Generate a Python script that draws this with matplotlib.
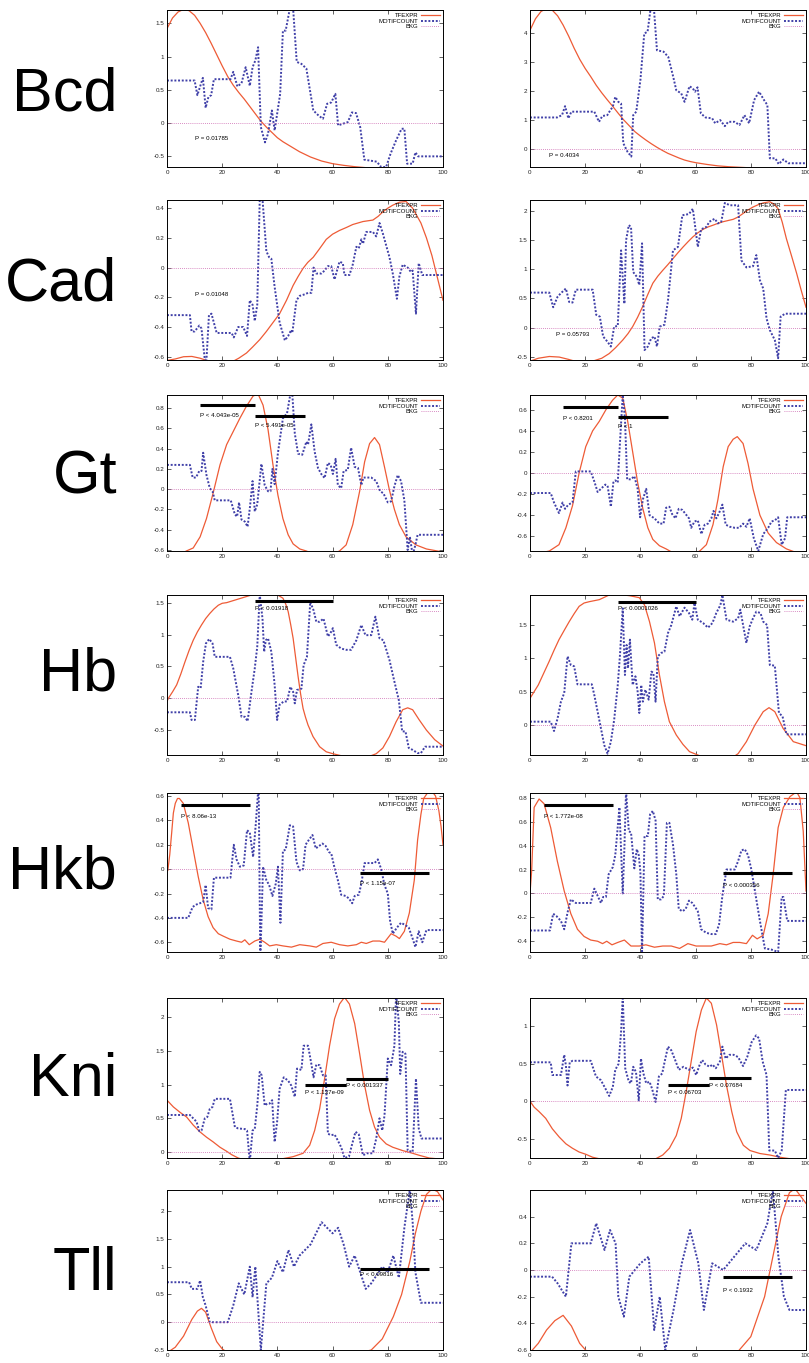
import matplotlib
matplotlib.use("Agg")
import matplotlib.pyplot as plt
from matplotlib.lines import Line2D

plt.rcParams['font.family'] = ['Liberation Sans', 'DejaVu Sans']
plt.rcParams['axes.unicode_minus'] = False

EXPR_COLOR = '#ee5b36'
MOTIF_COLOR = '#4040a8'
BKG_COLOR = '#cc66b0'

genes = ['Bcd', 'Cad', 'Gt', 'Hb', 'Hkb', 'Kni', 'Tll']
x_ticks = [0, 20, 40, 60, 80, 100]

# ---------------- Bcd ----------------
bcd_l_expr = [(0, 1.42), (2, 1.58), (4, 1.67), (6, 1.71), (8, 1.69), (10, 1.62), (12, 1.5), (14, 1.36), (16, 1.2),
              (18, 1.03), (20, 0.86), (22, 0.7), (24, 0.57), (26, 0.46), (28, 0.36), (30, 0.25), (32, 0.14),
              (34, 0.03), (36, -0.06), (38, -0.14), (40, -0.22), (42, -0.28), (44, -0.33), (46, -0.38),
              (48, -0.43), (50, -0.47), (52, -0.51), (54, -0.54), (56, -0.57), (58, -0.59), (60, -0.61),
              (64, -0.635), (68, -0.655), (72, -0.67), (80, -0.69), (100, -0.7)]
bcd_l_motif = [(0, 0.64), (10, 0.64), (11, 0.42), (13, 0.68), (14, 0.23), (15, 0.39), (16, 0.42), (17, 0.66),
               (23, 0.66), (24, 0.77), (25.5, 0.55), (27, 0.6), (28.5, 0.84), (30, 0.56), (31, 0.84), (32, 0.94),
               (33, 1.14), (34, -0.06), (35.5, -0.29), (36.6, -0.16), (38, 0.19), (39, -0.11), (41, 0.44),
               (42, 1.39), (43, 1.39), (44.5, 1.72), (45.7, 1.72), (47, 0.92), (48.7, 0.89), (50.5, 0.82),
               (53, 0.19), (55, 0.11), (56.5, 0.065), (58, 0.29), (59.5, 0.31), (61, 0.44), (62, -0.035),
               (63.7, -0.01), (65.5, 0.015), (67, 0.16), (68.5, 0.15), (70, -0.06), (71.5, -0.55), (73, -0.56),
               (76, -0.58), (77.6, -0.66), (79.4, -0.66), (81, -0.46), (83, -0.26), (85, -0.085), (86, -0.085),
               (87, -0.61), (89, -0.61), (90, -0.44), (91, -0.5), (100, -0.5)]
bcd_r_expr = [(0, 4.1), (2, 4.5), (4, 4.75), (6, 4.85), (8, 4.8), (10, 4.6), (12, 4.28), (14, 3.9), (16, 3.48),
              (18, 3.1), (20, 2.78), (22, 2.5), (24, 2.2), (26, 1.94), (28, 1.7), (30, 1.47), (32, 1.23),
              (34, 1.0), (36, 0.8), (38, 0.6), (40, 0.45), (42, 0.31), (44, 0.18), (46, 0.06), (48, -0.05),
              (50, -0.15), (52, -0.23), (54, -0.31), (56, -0.38), (58, -0.43), (60, -0.47), (64, -0.53),
              (68, -0.58), (72, -0.61), (80, -0.65), (100, -0.68)]
bcd_r_motif = [(0, 1.09), (9.8, 1.09), (11.6, 1.17), (12.7, 1.48), (13.9, 1.06), (15, 1.29), (23.3, 1.29),
               (25, 0.94), (26.2, 1.14), (28, 1.17), (29.1, 1.34), (30, 1.46), (30.9, 1.8), (32, 1.63), (33, 1.57),
               (33.8, 0.2), (35.3, -0.09), (36.7, -0.26), (37.4, 1.17), (38.5, 1.29), (40, 2.38), (41.4, 3.99),
               (42.6, 4.05), (43.7, 4.85), (44.9, 4.85), (46, 3.41), (48.4, 3.36), (50.1, 3.18), (51.9, 2.49),
               (53, 2.03), (54.8, 1.92), (56, 1.63), (57.8, 2.17), (59, 2.09), (59.8, 1.98), (60.7, 2.13),
               (61.9, 1.23), (63.6, 1.09), (66, 1.06), (67.1, 0.89), (68.9, 1.0), (70.6, 0.79), (71.8, 0.94),
               (74.1, 0.94), (75.9, 0.83), (77.7, 1.17), (79.4, 0.89), (81.2, 1.69), (83, 1.98), (84.8, 1.69),
               (86, 1.52), (86.9, -0.32), (88.9, -0.32), (90.1, -0.52), (91.8, -0.36), (93.6, -0.49), (100, -0.49)]

# ---------------- Cad ----------------
cad_l_expr = [(0, -0.625), (3, -0.615), (6, -0.6), (9, -0.598), (12, -0.61), (15, -0.63), (20, -0.66),
              (24, -0.63), (26, -0.61), (28.8, -0.575), (31, -0.535), (33.6, -0.485), (36, -0.43), (38.4, -0.37),
              (40.8, -0.31), (43.3, -0.22), (45.7, -0.12), (47.5, -0.06), (49.3, -0.005), (51, 0.035),
              (53, 0.07), (55, 0.12), (57.7, 0.19), (60, 0.225), (62.5, 0.25), (65, 0.27), (67.3, 0.29),
              (71, 0.31), (74.6, 0.32), (76.5, 0.345), (78.2, 0.375), (80, 0.4), (81.8, 0.42), (84.2, 0.44),
              (86.6, 0.445), (89, 0.4), (90.8, 0.34), (92, 0.3), (94, 0.2), (96, 0.08), (98, -0.07), (100, -0.22)]
cad_l_motif = [(0, -0.32), (8.3, -0.32), (8.9, -0.43), (10, -0.43), (11.7, -0.39), (12.5, -0.41), (13.7, -0.62),
               (14.3, -0.62), (15.2, -0.32), (16.1, -0.31), (18, -0.44), (23.4, -0.44), (24.2, -0.47),
               (25.8, -0.4), (27.6, -0.4), (29, -0.46), (30, -0.22), (31, -0.25), (31.8, -0.36), (32.7, -0.25),
               (33.6, 0.46), (34.6, 0.46), (36, 0.11), (37, 0.07), (37.8, 0.06), (39, -0.13), (40.8, -0.37),
               (42.7, -0.49), (43.9, -0.46), (45, -0.42), (45.4, -0.44), (46.9, -0.22), (48.1, -0.19),
               (49.9, -0.18), (51.1, -0.17), (52.3, -0.17), (53.1, 0.0), (54.1, -0.04), (55.9, -0.04),
               (57.1, -0.02), (58.3, 0.01), (59.5, 0.01), (60.7, -0.08), (62.5, 0.04), (63.7, 0.03), (64.3, -0.05),
               (66.1, -0.05), (67.3, 0.02), (68.6, 0.14), (69.5, 0.13), (70.4, 0.19), (71, 0.16), (72.2, 0.24),
               (74.6, 0.24), (75.8, 0.21), (77, 0.3), (78.2, 0.23), (80.6, 0.07), (81.8, -0.04), (83.3, -0.21),
               (84.2, -0.06), (85.4, 0.02), (87.2, 0.0), (88.4, -0.03), (89, -0.02), (90.2, -0.31), (91.2, 0.03),
               (92.5, -0.05), (100, -0.05)]
cad_r_expr = [(0, -0.57), (3, -0.52), (7, -0.49), (10.6, -0.5), (14, -0.54), (17, -0.58), (22, -0.58),
              (24, -0.55), (26, -0.52), (28.7, -0.44), (31, -0.34), (33.6, -0.21), (35.5, -0.1), (37.2, 0.02),
              (39, 0.18), (40.8, 0.36), (42.7, 0.57), (44.5, 0.76), (46.3, 0.88), (48.1, 0.98), (50, 1.08),
              (51.8, 1.18), (53.6, 1.28), (55.5, 1.38), (57.3, 1.47), (59, 1.55), (60.8, 1.62), (62.7, 1.68),
              (64.5, 1.72), (66.3, 1.75), (68, 1.78), (70, 1.81), (71.8, 1.83), (73.6, 1.85), (75.4, 1.89),
              (77.2, 1.95), (79, 2.01), (80.8, 2.06), (82.7, 2.1), (84.5, 2.13), (86.9, 2.15), (88.4, 2.11),
              (89.9, 2.03), (91.4, 1.8), (92.9, 1.52), (94.8, 1.22), (96.6, 0.93), (98.2, 0.65), (100, 0.35)]
cad_r_motif = [(0, 0.6), (7, 0.6), (8.4, 0.35), (10, 0.53), (11.2, 0.59), (13, 0.67), (14.2, 0.44), (15.4, 0.43),
               (16.6, 0.65), (22.7, 0.65), (24, 0.22), (25.3, 0.19), (26.5, -0.15), (28.1, -0.24), (29.3, -0.32),
               (30.5, 0.02), (31.8, 0.03), (33, 1.32), (33.8, 0.7), (34.2, 0.41), (34.8, 1.49), (35.8, 1.75),
               (36.6, 1.72), (37.4, 0.95), (38.7, 0.87), (39.6, 0.73), (40.6, 1.44), (41.5, -0.38), (42.7, -0.32),
               (43.9, -0.18), (45.1, -0.15), (46, -0.32), (47, 0.02), (48.7, 0.05), (50, 0.47), (51.8, 1.32),
               (53.6, 1.38), (55.2, 1.92), (57.6, 1.94), (59, 2.03), (60.8, 1.38), (62, 1.68), (63.9, 1.72),
               (65, 1.81), (66.9, 1.86), (68.1, 1.78), (69.3, 1.81), (70.6, 2.13), (72.4, 2.09), (75.4, 2.09),
               (76.6, 1.15), (78.4, 1.03), (80.8, 1.05), (82, 1.24), (83.3, 0.81), (84.5, 0.67), (85.7, 0.16),
               (86.9, -0.04), (88.7, -0.21), (89.9, -0.52), (90.8, 0.19), (92.4, 0.24), (100, 0.24)]

# ---------------- Gt ----------------
gt_l_expr = [(0, -0.66), (5, -0.64), (7, -0.61), (9.5, -0.58), (12, -0.47), (14.3, -0.29), (16.7, -0.04),
             (19.2, 0.24), (21.6, 0.44), (24, 0.57), (26.4, 0.7), (28.8, 0.82), (31.2, 0.92), (33, 0.94),
             (34.8, 0.83), (36.6, 0.59), (38.4, 0.24), (40.2, -0.06), (42, -0.29), (43.9, -0.45), (45.7, -0.54),
             (48.1, -0.59), (50.5, -0.61), (53, -0.64), (60, -0.64), (62.5, -0.61), (64.9, -0.55), (67.3, -0.35),
             (69.8, -0.02), (71.6, 0.27), (73.4, 0.45), (75.2, 0.51), (77, 0.44), (78.8, 0.22), (80.6, -0.01),
             (82.4, -0.2), (84.2, -0.35), (86.6, -0.47), (90.2, -0.55), (94, -0.59), (100, -0.62)]
gt_l_motif = [(0, 0.24), (8.3, 0.24), (9.3, 0.115), (10.5, 0.115), (11.7, 0.18), (12.5, 0.18), (13.1, 0.36),
              (14.3, 0.14), (15.5, 0.01), (16.5, -0.02), (17.3, -0.11), (23.1, -0.11), (24.6, -0.25),
              (25.4, -0.27), (26.1, -0.13), (27, -0.3), (28.2, -0.32), (29.2, -0.37), (30, -0.19), (31, 0.08),
              (31.8, -0.22), (32.7, -0.15), (34.2, 0.25), (35.4, 0.04), (36.6, -0.02), (37.5, -0.02), (38.2, 0.2),
              (39, 0.05), (40.2, 0.36), (42, 0.7), (43.5, 0.75), (44.7, 0.94), (45.4, 0.94), (46.3, 0.55),
              (47.5, 0.35), (49, 0.34), (50.5, 0.47), (51.1, 0.44), (52.3, 0.64), (53.5, 0.37), (54.7, 0.21),
              (55.9, 0.15), (57.1, 0.11), (58.3, 0.26), (59.3, 0.24), (60.1, 0.15), (61.1, 0.3), (61.9, 0.04),
              (63.1, 0.01), (64, 0.18), (65.5, 0.19), (66.7, 0.41), (68, 0.22), (69.2, 0.21), (70.4, 0.04),
              (71.2, 0.115), (74, 0.115), (75.8, 0.08), (77.2, -0.02), (78.4, -0.04), (80, -0.13), (81.2, -0.12),
              (82.4, 0.03), (83.6, 0.14), (84.8, 0.08), (86, -0.11), (87.2, -0.6), (88, -0.47), (89, -0.65),
              (90, -0.55), (90.8, -0.45), (100, -0.45)]
gt_r_expr = [(0, -0.78), (7, -0.74), (10.5, -0.68), (13, -0.52), (15.4, -0.31), (17.8, 0.0), (20.2, 0.25),
             (22.7, 0.4), (25.1, 0.49), (27.5, 0.6), (29.9, 0.69), (31.8, 0.74), (33.6, 0.71), (35.4, 0.49),
             (37.2, 0.2), (39, -0.09), (40.9, -0.34), (42.7, -0.52), (44.5, -0.63), (46.9, -0.69), (49.3, -0.72),
             (52, -0.76), (60, -0.76), (61.5, -0.74), (63.9, -0.68), (66.3, -0.49), (68.1, -0.25), (70, 0.06),
             (71.8, 0.25), (73.6, 0.32), (75.1, 0.345), (77.2, 0.28), (79, 0.09), (80.8, -0.15), (83.3, -0.4),
             (86.3, -0.57), (89.3, -0.66), (92.9, -0.72), (96, -0.75), (100, -0.77)]
gt_r_motif = [(0, -0.19), (7.5, -0.19), (8.7, -0.28), (10.5, -0.38), (11.8, -0.28), (12.7, -0.34), (13.9, -0.3),
              (15.4, -0.28), (16.6, 0.015), (22, 0.015), (23.3, -0.08), (24.5, -0.18), (25.7, -0.15),
              (27.3, -0.11), (28.1, -0.12), (29.3, -0.32), (30.2, -0.09), (30.9, -0.07), (31.8, -0.09),
              (32.6, 0.29), (33.6, 0.74), (34.4, 0.52), (35.2, -0.06), (36.6, -0.06), (37.8, -0.03), (39, -0.15),
              (39.9, -0.42), (40.9, -0.25), (42.1, -0.15), (43.3, -0.4), (45.1, -0.43), (46.9, -0.48),
              (48.4, -0.48), (49.3, -0.33), (50.5, -0.32), (51.5, -0.39), (52.7, -0.43), (53.9, -0.34),
              (55.2, -0.35), (56.4, -0.39), (57.6, -0.43), (58.4, -0.52), (59.6, -0.46), (60.8, -0.45),
              (62.1, -0.58), (63.3, -0.49), (64.5, -0.48), (65.7, -0.43), (66.5, -0.36), (67.5, -0.43),
              (68.5, -0.38), (69.7, -0.3), (70.9, -0.49), (72.4, -0.51), (74.2, -0.52), (75.8, -0.52),
              (77.2, -0.48), (78.4, -0.51), (79.6, -0.43), (81.1, -0.62), (82.7, -0.74), (84.5, -0.58),
              (86.3, -0.52), (87.5, -0.46), (88.7, -0.45), (89.9, -0.42), (91.2, -0.68), (92.4, -0.62),
              (93.2, -0.42), (100, -0.42)]

# ---------------- Hb ----------------
hb_l_expr = [(0, -0.05), (0.5, 0.0), (2, 0.1), (3.5, 0.21), (5, 0.38), (6.5, 0.57), (8, 0.75), (9.5, 0.91),
             (11, 1.04), (12.5, 1.15), (14, 1.25), (15.5, 1.33), (17, 1.4), (18.6, 1.46), (20, 1.49), (21.6, 1.5),
             (24.6, 1.54), (27.6, 1.58), (30.6, 1.62), (33, 1.64), (36, 1.64), (39, 1.63), (40.5, 1.61),
             (42, 1.57), (43, 1.48), (43.9, 1.36), (44.8, 1.16), (45.7, 0.94), (46.6, 0.64), (47.5, 0.34),
             (48.4, 0.07), (49.3, -0.16), (50.2, -0.3), (51.1, -0.42), (52.9, -0.6), (55.3, -0.76), (57.7, -0.84),
             (60.1, -0.87), (63, -0.9), (74, -0.9), (75.8, -0.87), (78.2, -0.78), (80.6, -0.6), (83, -0.37),
             (85.4, -0.18), (87.2, -0.15), (89, -0.18), (91.4, -0.34), (94, -0.5), (97, -0.65), (100, -0.75)]
hb_l_motif = [(0, -0.22), (8.3, -0.22), (8.9, -0.34), (10.1, -0.34), (11.3, 0.18), (12.2, 0.16), (13.1, 0.57),
              (14.1, 0.86), (15.3, 0.93), (16.5, 0.86), (17.3, 0.65), (22.8, 0.65), (24, 0.47), (25.8, 0.05),
              (27, -0.29), (28.2, -0.29), (29.2, -0.36), (30.6, 0.1), (31.8, 0.47), (32.7, 0.81), (33.6, 1.63),
              (34.6, 1.25), (35.2, 0.73), (35.8, 0.91), (36.6, 0.94), (37.8, 0.73), (39, 0.21), (39.9, -0.34),
              (40.8, -0.1), (42.3, -0.05), (43.5, -0.05), (44.7, 0.18), (45.7, 0.1), (46.3, -0.08), (47.1, 0.13),
              (48.7, 0.15), (49.5, 0.52), (50.7, 0.65), (51.9, 1.51), (53.1, 1.38), (54.1, 1.2), (55.3, 1.2),
              (56.7, 1.25), (58.3, 0.97), (59.2, 1.02), (60.1, 1.1), (61.3, 0.84), (63.1, 0.78), (64.9, 0.76),
              (66.7, 0.76), (68.6, 0.91), (70.4, 1.15), (71.9, 0.99), (74, 0.99), (75.5, 1.28), (77, 0.94),
              (78.4, 0.91), (80.6, 0.6), (82.4, 0.26), (84, -0.03), (85.2, -0.52), (86.4, -0.52), (87.6, -0.78),
              (89, -0.81), (90.8, -0.86), (92, -0.86), (93.5, -0.76), (100, -0.76)]
hb_r_expr = [(0, 0.4), (3, 0.6), (5, 0.78), (6.9, 0.95), (8.7, 1.12), (10.5, 1.28), (12.4, 1.42), (14.2, 1.55),
             (16, 1.67), (17.8, 1.78), (19.6, 1.83), (21.5, 1.85), (25.1, 1.88), (28.7, 1.95), (32, 1.96),
             (36, 1.94), (39.6, 1.91), (41.5, 1.8), (43.3, 1.55), (45.1, 1.23), (46.9, 0.75), (48.7, 0.35),
             (50.5, 0.05), (53, -0.15), (55.4, -0.29), (57.8, -0.4), (59.6, -0.43), (62, -0.47), (74, -0.47),
             (75.4, -0.43), (78.4, -0.25), (81.5, 0.0), (84.5, 0.2), (86.6, 0.26), (88.7, 0.2), (91.7, -0.05),
             (95.4, -0.25), (100, -0.31)]
hb_r_motif = [(0, 0.05), (7.5, 0.05), (8.7, -0.09), (10, 0.1), (11.2, 0.35), (12.4, 0.48), (13.6, 1.03),
              (14.8, 0.9), (16, 0.88), (17.2, 0.61), (22.4, 0.61), (23.3, 0.45), (24.5, 0.2), (25.7, -0.05),
              (26.9, -0.3), (28.1, -0.43), (29.3, -0.25), (30.5, 0.08), (31.8, 0.6), (32.6, 1.05), (33.6, 1.75),
              (34.4, 0.75), (35, 1.2), (35.5, 0.85), (36.2, 1.28), (37.2, 0.6), (38.2, 0.73), (39, 0.5),
              (39.6, 0.18), (40.3, 0.6), (40.9, 0.35), (41.8, 0.53), (43, 0.38), (44, 0.8), (44.7, 0.78),
              (45.5, 0.35), (46.3, 1.03), (47.5, 1.08), (48.7, 1.1), (50, 1.38), (51.2, 1.5), (53, 1.78),
              (54.2, 1.63), (56, 1.76), (57.6, 1.68), (58.8, 1.58), (59.6, 1.83), (60.8, 1.58), (62.7, 1.53),
              (64.5, 1.46), (66.1, 1.53), (67.5, 1.68), (69, 1.8), (69.7, 1.95), (71.2, 1.58), (73.6, 1.55),
              (75.4, 1.6), (76.2, 1.73), (77.2, 1.5), (78.4, 1.23), (79.6, 1.48), (80.8, 1.6), (82, 1.7),
              (83.5, 1.68), (84.5, 1.55), (85.9, 1.5), (86.9, 0.9), (88.7, 0.89), (90.2, 0.18), (91.5, 0.13),
              (92.9, -0.14), (100, -0.14)]

# ---------------- Hkb ----------------
hkb_l_expr = [(0.3, -0.01), (1, 0.12), (1.7, 0.3), (2.3, 0.46), (3, 0.54), (3.8, 0.58), (4.5, 0.58), (5.9, 0.54),
              (7.7, 0.38), (9.5, 0.16), (11.3, -0.06), (13.1, -0.25), (14.9, -0.39), (16.7, -0.48), (18.6, -0.53),
              (20.4, -0.55), (22.8, -0.575), (25.2, -0.59), (27, -0.6), (28.2, -0.58), (29.8, -0.62),
              (31.8, -0.59), (33.6, -0.575), (35.4, -0.6), (37.2, -0.63), (39.6, -0.62), (42, -0.63),
              (45.1, -0.64), (48.1, -0.62), (51.7, -0.63), (54.1, -0.64), (56.5, -0.61), (59.5, -0.6),
              (62.5, -0.62), (65.5, -0.63), (68.6, -0.62), (70.4, -0.6), (72.2, -0.61), (74.6, -0.59), (77, -0.59),
              (78.8, -0.6), (81.2, -0.53), (83, -0.55), (84.2, -0.57), (86, -0.51), (87.8, -0.36), (89.6, -0.09),
              (90.8, 0.24), (92, 0.45), (93, 0.58), (94.5, 0.63), (96, 0.64), (97.3, 0.6), (98.5, 0.48),
              (99.3, 0.35), (100, 0.2)]
hkb_l_motif = [(0, -0.4), (7.7, -0.4), (9.3, -0.31), (10.7, -0.29), (11.9, -0.28), (13.1, -0.27), (14, -0.13),
               (14.9, -0.32), (16.1, -0.33), (17, -0.07), (23, -0.07), (24.2, 0.2), (25.2, 0.08), (26.4, 0.02),
               (27.8, 0.03), (29, 0.32), (30, 0.3), (31.2, 0.1), (32.2, 0.38), (33.2, 0.7), (33.8, -0.75),
               (34.8, 0.02), (36, -0.09), (37, -0.13), (38.2, -0.22), (39.4, -0.12), (40.2, 0.02), (41.1, -0.44),
               (42, 0.15), (43, 0.16), (44.5, 0.36), (45.7, 0.35), (46.9, 0.06), (48.1, -0.01), (49.3, 0.0),
               (50.2, 0.2), (51.4, 0.24), (52.7, 0.28), (53.9, 0.17), (55.1, 0.19), (56.3, 0.21), (57.5, 0.19),
               (58.7, 0.14), (59.5, 0.13), (60.7, 0.01), (61.9, -0.09), (63.1, -0.21), (64.7, -0.22),
               (65.9, -0.24), (67.1, -0.28), (68, -0.22), (69.5, -0.21), (70.4, -0.12), (71.6, 0.05), (75.2, 0.05),
               (76.4, 0.08), (77.6, 0.0), (78.8, -0.13), (80, -0.2), (80.8, -0.42), (81.8, -0.53), (83.3, -0.48),
               (84.8, -0.44), (86.4, -0.46), (87.6, -0.48), (89, -0.57), (90, -0.64), (91.2, -0.51), (92.5, -0.6),
               (94, -0.5), (100, -0.5)]
hkb_r_expr = [(0, 0.0), (0.6, 0.19), (1.5, 0.72), (3.3, 0.79), (5.1, 0.75), (7.5, 0.55), (9.9, 0.27),
              (12.4, 0.02), (14.8, -0.17), (17.2, -0.3), (19.6, -0.36), (22, -0.39), (24.5, -0.4), (26.3, -0.42),
              (27.8, -0.4), (29.7, -0.43), (31.8, -0.41), (34.2, -0.39), (36.6, -0.44), (39.6, -0.44),
              (42, -0.43), (45.1, -0.45), (48.1, -0.44), (51.2, -0.44), (54.2, -0.46), (57.2, -0.42),
              (60.2, -0.44), (63.3, -0.44), (65.7, -0.44), (68.8, -0.42), (71.2, -0.43), (73.6, -0.41),
              (76, -0.41), (78.4, -0.42), (80.6, -0.35), (82.3, -0.38), (84.5, -0.35), (86.3, -0.17), (88.1, 0.16),
              (89.9, 0.55), (91.8, 0.72), (94.2, 0.81), (96.6, 0.85), (97.8, 0.8), (99, 0.52), (100, 0.02)]
hkb_r_motif = [(0, -0.31), (7.2, -0.31), (8.4, -0.17), (9.6, -0.19), (11.2, -0.23), (12.4, -0.3), (13.6, -0.16),
               (14.8, -0.05), (16.6, -0.08), (22, -0.08), (23.3, 0.04), (24.5, -0.02), (25.7, -0.08),
               (26.5, -0.03), (27.5, -0.03), (28.5, 0.16), (30, 0.22), (30.9, 0.32), (32.4, 0.72), (33.6, 0.0),
               (34.2, 0.38), (34.8, 0.86), (35.8, 0.52), (36.6, 0.51), (37.8, 0.21), (38.7, 0.37), (39.4, 0.32),
               (40, 0.18), (40.6, -0.5), (41.5, 0.48), (42.7, 0.48), (43.5, 0.66), (44.5, 0.69), (45.5, 0.61),
               (46.3, -0.05), (47.5, -0.05), (48.5, -0.02), (49.6, 0.59), (50.5, 0.59), (51.8, 0.41), (53, 0.16),
               (53.9, -0.13), (55.2, -0.15), (56.4, -0.13), (57.6, -0.06), (58.8, -0.08), (60, -0.12),
               (60.8, -0.15), (62, -0.3), (63.9, -0.33), (65.7, -0.34), (67.3, -0.34), (68.5, -0.26),
               (69.7, -0.02), (71.2, 0.2), (74.2, 0.2), (75.4, 0.27), (76.6, 0.36), (77.8, 0.37), (79, 0.32),
               (80.2, 0.2), (81.5, 0.02), (83.3, -0.23), (85.1, -0.46), (87.5, -0.47), (89.9, -0.49), (91.2, -0.03),
               (91.8, -0.03), (93.2, -0.23), (100, -0.23)]

# ---------------- Kni ----------------
kni_l_expr = [(0, 0.77), (2.3, 0.67), (4.7, 0.59), (7.1, 0.52), (9.5, 0.4), (11.9, 0.3), (14.3, 0.22),
              (16.7, 0.15), (19.2, 0.07), (21.6, 0.01), (23.4, -0.04), (25.8, -0.09), (28, -0.12), (38, -0.12),
              (42, -0.1), (45.7, -0.07), (49.3, -0.02), (51.7, 0.1), (53.5, 0.32), (55.3, 0.64), (57.1, 1.09),
              (58.9, 1.58), (60.7, 1.98), (62.5, 2.2), (64.3, 2.3), (66.1, 2.2), (68, 1.91), (69.8, 1.46),
              (71.6, 0.99), (73.4, 0.62), (75.2, 0.37), (77, 0.22), (79.4, 0.12), (81.8, 0.07), (85.4, 0.02),
              (89, -0.02), (91.4, -0.05), (95, -0.09), (100, -0.11)]
kni_l_motif = [(0, 0.55), (8.3, 0.55), (9.5, 0.5), (10.7, 0.45), (11.7, 0.31), (12.5, 0.32), (13.7, 0.5),
               (14.6, 0.52), (15.5, 0.64), (16.5, 0.67), (17.3, 0.79), (22.8, 0.79), (24.6, 0.37), (25.8, 0.35),
               (28.2, 0.34), (29, 0.32), (30, -0.15), (31, 0.32), (31.8, 0.34), (32.7, 0.69), (33.6, 1.19),
               (34.3, 1.14), (35.4, 0.69), (36.3, 0.72), (37.2, 0.72), (38.1, 0.77), (39, 0.15), (39.9, 0.45),
               (40.8, 0.94), (42.3, 1.11), (43.9, 1.06), (45, 0.99), (46.3, 0.82), (47.1, 1.24), (48.7, 1.22),
               (49.5, 1.58), (51.1, 1.58), (52.3, 1.31), (53.1, 1.11), (54.1, 1.3), (55.3, 1.29), (56.5, 1.14),
               (57.5, 1.14), (58.3, 0.27), (59.5, 0.25), (60.7, 0.26), (61.9, 0.17), (63.1, 0.07), (64.3, -0.09),
               (65.9, -0.07), (67.1, 0.12), (68.3, 0.3), (69.5, 0.26), (71, -0.05), (72.4, -0.02), (74.6, -0.02),
               (75.8, 0.2), (77, 0.5), (78, 0.32), (78.8, 0.54), (80, 1.39), (81.2, 1.29), (82.4, 1.58),
               (83, 2.35), (84, 1.93), (84.5, 1.16), (85.4, 1.49), (86.4, 1.46), (87.2, 0.02), (89, 0.0),
               (90.2, 1.09), (91.2, 0.35), (92.2, 0.2), (100, 0.2)]
kni_r_expr = [(0, 0.0), (1.5, -0.08), (3.3, -0.14), (5.7, -0.23), (8.1, -0.37), (10.6, -0.48), (13, -0.57),
              (15.4, -0.63), (17.8, -0.68), (20.2, -0.71), (22.7, -0.75), (25.1, -0.77), (30, -0.8), (44, -0.8),
              (48.1, -0.72), (50.5, -0.63), (53, -0.46), (54.8, -0.23), (56.6, 0.13), (58.4, 0.53), (60.2, 0.93),
              (62.1, 1.22), (63.9, 1.38), (65.7, 1.31), (67.6, 1.02), (69.4, 0.62), (71.2, 0.21), (73.1, -0.14),
              (74.9, -0.41), (77.3, -0.59), (79.7, -0.66), (83.3, -0.7), (86.9, -0.72), (90.6, -0.75),
              (94.2, -0.77), (100, -0.78)]
kni_r_motif = [(0, 0.52), (7.5, 0.52), (8.1, 0.35), (11.2, 0.35), (12.4, 0.62), (13, 0.48), (13.6, 0.21),
               (14.4, 0.52), (15.4, 0.54), (22, 0.54), (23.9, 0.33), (25.7, 0.28), (27.3, 0.17), (28.7, 0.07),
               (30, 0.19), (30.9, 0.42), (32.1, 0.5), (33, 0.93), (33.6, 1.4), (34.5, 0.44), (35.8, 0.26),
               (36.6, 0.24), (37.4, 0.46), (38.4, 0.39), (39.4, 0.01), (40.2, 0.57), (41.1, 0.37), (42.1, 0.24),
               (43.3, 0.26), (44.2, 0.17), (45.5, -0.01), (46.7, 0.33), (47.9, 0.37), (48.8, 0.53), (50, 0.73),
               (51.2, 0.68), (52.7, 0.54), (53.9, 0.42), (55.6, 0.46), (57.6, 0.42), (59, 0.45), (60.2, 0.35),
               (61.5, 0.49), (62.4, 0.55), (63.6, 0.49), (65.1, 0.46), (66.1, 0.49), (67.3, 0.44), (68.8, 0.53),
               (69.7, 0.73), (70.9, 0.57), (72.2, 0.62), (73.8, 0.62), (75.4, 0.59), (77.2, 0.47), (78.7, 0.59),
               (80.3, 0.79), (81.9, 0.88), (83, 0.84), (84.3, 0.53), (85.7, 0.35), (86.7, -0.66), (88.7, -0.66),
               (89.9, -0.76), (91.2, -0.66), (92.7, 0.15), (100, 0.15)]

# ---------------- Tll ----------------
tll_l_expr = [(0, -0.55), (3, -0.45), (6, -0.25), (9, 0.05), (11, 0.2), (12.5, 0.25), (14, 0.18), (16, -0.1),
              (18, -0.35), (20, -0.48), (22, -0.55), (70, -0.55), (74, -0.5), (78, -0.3), (82, 0.1), (85, 0.5),
              (88, 1.1), (90, 1.6), (92, 2.0), (94, 2.3), (96, 2.4), (98, 2.35), (100, 2.2)]
tll_l_motif = [(0, 0.72), (8, 0.72), (9, 0.6), (11, 0.6), (12, 0.75), (13, 0.45), (14, 0.3), (15.5, 0.0),
               (22, 0.0), (24, 0.3), (26, 0.7), (28, 0.5), (30, 1.0), (31, 0.45), (32, 1.0), (34, -0.5),
               (36, 0.7), (38, 0.8), (40, 1.1), (42, 0.9), (44, 1.3), (46, 1.0), (48, 1.2), (52, 1.4), (56, 1.8),
               (60, 1.6), (62, 1.7), (64, 1.4), (66, 1.0), (68, 1.2), (70, 0.9), (72, 0.6), (74, 0.7), (78, 1.0),
               (80, 0.9), (82, 1.2), (84, 0.8), (86, 1.7), (88, 2.4), (89, 1.8), (90, 0.9), (92, 0.35), (100, 0.35)]
tll_r_expr = [(0, -0.62), (3, -0.55), (6, -0.45), (9, -0.38), (12, -0.34), (15, -0.42), (18, -0.55), (21, -0.62),
              (75, -0.62), (80, -0.5), (85, -0.2), (88, 0.1), (91, 0.4), (94, 0.58), (96, 0.61), (100, 0.5)]
tll_r_motif = [(0, -0.05), (8, -0.05), (10, -0.1), (13, -0.2), (15, 0.2), (22, 0.2), (24, 0.35), (27, 0.15),
               (29, 0.3), (31, 0.2), (32, -0.2), (34, -0.35), (36, -0.05), (40, 0.05), (43, 0.1), (45, -0.45),
               (47, -0.2), (49, -0.6), (52, -0.3), (55, 0.05), (58, 0.3), (61, 0.05), (63, -0.3), (66, 0.05),
               (70, 0.0), (74, 0.1), (78, 0.2), (82, 0.15), (86, 0.35), (88, 0.6), (90, 0.1), (92, -0.2),
               (94, -0.3), (100, -0.3)]

# significance bars (x0, x1, y) and p-value labels (x, y, text)
panels = [
    dict(expr=bcd_l_expr, motif=bcd_l_motif, ylim=(-0.66, 1.7), yticks=[-0.5, 0, 0.5, 1, 1.5],
         bars=[], labels=[(10, -0.235, 'P = 0.01785')]),
    dict(expr=bcd_r_expr, motif=bcd_r_motif, ylim=(-0.62, 4.8), yticks=[0, 1, 2, 3, 4],
         bars=[], labels=[(7, -0.21, 'P = 0.4034')]),
    dict(expr=cad_l_expr, motif=cad_l_motif, ylim=(-0.622, 0.455), yticks=[-0.6, -0.4, -0.2, 0, 0.2, 0.4],
         bars=[], labels=[(10, -0.18, 'P = 0.01048')]),
    dict(expr=cad_r_expr, motif=cad_r_motif, ylim=(-0.55, 2.18), yticks=[-0.5, 0, 0.5, 1, 1.5, 2],
         bars=[], labels=[(9.3, -0.11, 'P = 0.05793')]),
    dict(expr=gt_l_expr, motif=gt_l_motif, ylim=(-0.61, 0.93), yticks=[-0.6, -0.4, -0.2, 0, 0.2, 0.4, 0.6, 0.8],
         bars=[(12, 32, 0.83), (32, 50, 0.725)],
         labels=[(12, 0.73, 'P < 4.043e-05'), (32, 0.63, 'P < 5.491e-05')]),
    dict(expr=gt_r_expr, motif=gt_r_motif, ylim=(-0.74, 0.74), yticks=[-0.6, -0.4, -0.2, 0, 0.2, 0.4, 0.6],
         bars=[(12, 32, 0.63), (32, 50, 0.53)],
         labels=[(12, 0.52, 'P < 0.8201'), (32, 0.44, 'P < 1')]),
    dict(expr=hb_l_expr, motif=hb_l_motif, ylim=(-0.89, 1.62), yticks=[-0.5, 0, 0.5, 1, 1.5],
         bars=[(32, 60, 1.52)], labels=[(32, 1.41, 'P < 0.01918')]),
    dict(expr=hb_r_expr, motif=hb_r_motif, ylim=(-0.45, 1.95), yticks=[0, 0.5, 1, 1.5],
         bars=[(32, 60, 1.85)], labels=[(32, 1.74, 'P < 0.0001026')]),
    dict(expr=hkb_l_expr, motif=hkb_l_motif, ylim=(-0.68, 0.625), yticks=[-0.6, -0.4, -0.2, 0, 0.2, 0.4, 0.6],
         bars=[(5, 30, 0.53), (70, 95, -0.03)],
         labels=[(5, 0.43, 'P < 8.06e-13'), (70, -0.12, 'P < 1.15e-07')]),
    dict(expr=hkb_r_expr, motif=hkb_r_motif, ylim=(-0.49, 0.84), yticks=[-0.4, -0.2, 0, 0.2, 0.4, 0.6, 0.8],
         bars=[(5, 30, 0.74), (70, 95, 0.17)],
         labels=[(5, 0.64, 'P < 1.772e-08'), (70, 0.07, 'P < 0.000356')]),
    dict(expr=kni_l_expr, motif=kni_l_motif, ylim=(-0.09, 2.29), yticks=[0, 0.5, 1, 1.5, 2],
         bars=[(50, 65, 1.0), (65, 80, 1.09)],
         labels=[(50, 0.89, 'P < 1.137e-09'), (65, 0.99, 'P < 0.001337')]),
    dict(expr=kni_r_expr, motif=kni_r_motif, ylim=(-0.76, 1.38), yticks=[-0.5, 0, 0.5, 1],
         bars=[(50, 65, 0.21), (65, 80, 0.31)],
         labels=[(50, 0.12, 'P < 0.06703'), (65, 0.21, 'P < 0.07684')]),
    dict(expr=tll_l_expr, motif=tll_l_motif, ylim=(-0.5, 2.38), yticks=[-0.5, 0, 0.5, 1, 1.5, 2],
         bars=[(70, 95, 0.95)], labels=[(70, 0.85, 'P < 0.09816')]),
    dict(expr=tll_r_expr, motif=tll_r_motif, ylim=(-0.6, 0.6), yticks=[-0.6, -0.4, -0.2, 0, 0.2, 0.4],
         bars=[(70, 95, -0.05)], labels=[(70, -0.15, 'P < 0.1932')]),
]

W, H = 809, 1363
row_px = [(10, 167), (200, 360), (395, 551), (595, 755), (793, 952), (998, 1158), (1190, 1350)]
col_px = [(167, 443), (530, 806)]
label_y = [95, 285, 478, 675, 873, 1080, 1275]

fig = plt.figure(figsize=(W / 100, H / 100), dpi=100)


def draw(ax, p):
    ex, ey = zip(*p['expr'])
    mx, my = zip(*p['motif'])
    ax.plot(ex, ey, color=EXPR_COLOR, lw=0.9, label='TFEXPR')
    ax.plot(mx, my, color=MOTIF_COLOR, lw=1.4, ls=(0, (1, 0.9)), label='MOTIFCOUNT')
    ax.axhline(0, color=BKG_COLOR, lw=0.6, ls=(0, (1, 1.5)), label='BKG')
    for x0, x1, y in p['bars']:
        ax.plot([x0, x1], [y, y], color='black', lw=2.2, solid_capstyle='butt')
    for x, y, t in p['labels']:
        ax.text(x, y, t, fontsize=4.4, va='center', ha='left', color='black')
    ax.set_xlim(0, 100)
    ax.set_ylim(*p['ylim'])
    ax.set_xticks(x_ticks)
    ax.set_yticks(p['yticks'])
    ax.set_yticklabels(['%g' % v for v in p['yticks']])
    ax.tick_params(direction='in', length=3, width=0.5, labelsize=4.5, pad=2,
                   top=True, right=True, colors='#222222')
    for s in ax.spines.values():
        s.set_linewidth(0.7)
    handles = [Line2D([], [], color=EXPR_COLOR, lw=0.9),
               Line2D([], [], color=MOTIF_COLOR, lw=1.4, ls=(0, (1, 0.9))),
               Line2D([], [], color=BKG_COLOR, lw=0.6, ls=(0, (1, 1.5)))]
    ax.legend(handles, ['TFEXPR', 'MOTIFCOUNT', 'BKG'], loc='upper right', fontsize=4.3,
              frameon=False, markerfirst=False, handlelength=3.2, handletextpad=0.4,
              labelspacing=0.05, borderaxespad=0.3, borderpad=0.2)


for r in range(7):
    top, bot = row_px[r]
    for c in range(2):
        left, right = col_px[c]
        ax = fig.add_axes([left / W, 1 - bot / H, (right - left) / W, (bot - top) / H])
        draw(ax, panels[2 * r + c])
    fig.text(117 / W, 1 - label_y[r] / H, genes[r], fontsize=44, ha='right', va='center')

fig.savefig('out.png', dpi=100)
